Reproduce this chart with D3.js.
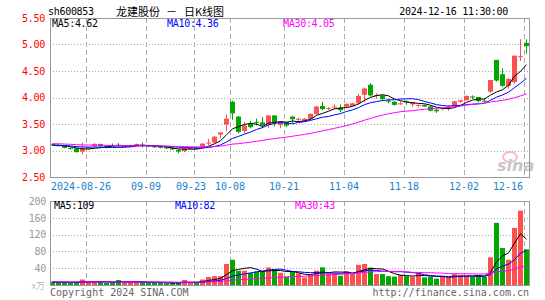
<!DOCTYPE html>
<html lang="zh">
<head>
<meta charset="utf-8">
<style>
  body { margin: 0; background: #fff; }
  svg { display: block; background: #fff; font-family: 'DejaVu Sans Mono', monospace; font-size: 10px; }
  .grid-h { stroke: #aaa; stroke-dasharray: 1,2; }
  .grid-v { stroke: #aaa; stroke-dasharray: 5,3; }
  .frame { fill: none; stroke: #999; }
  .ma5 { stroke: #000; }
  .ma10 { stroke: #00f; }
  .ma30 { stroke: #f0f; }
  path.ma { fill: none; stroke-width: 1; }
</style>
</head>
<body>
<svg width="545" height="300"></svg>
<script src="https://d3js.org/d3.v7.min.js"></script>
<script>
// ---- data ----
const dates = ["2024-08-16","2024-08-19","2024-08-20","2024-08-21","2024-08-22","2024-08-23",
  "2024-08-26","2024-08-27","2024-08-28","2024-08-29","2024-08-30",
  "2024-09-02","2024-09-03","2024-09-04","2024-09-05","2024-09-06",
  "2024-09-09","2024-09-10","2024-09-11","2024-09-12","2024-09-13",
  "2024-09-18","2024-09-19","2024-09-20",
  "2024-09-23","2024-09-24","2024-09-25","2024-09-26","2024-09-27","2024-09-30",
  "2024-10-08","2024-10-09","2024-10-10","2024-10-11",
  "2024-10-14","2024-10-15","2024-10-16","2024-10-17","2024-10-18",
  "2024-10-21","2024-10-22","2024-10-23","2024-10-24","2024-10-25",
  "2024-10-28","2024-10-29","2024-10-30","2024-10-31","2024-11-01",
  "2024-11-04","2024-11-05","2024-11-06","2024-11-07","2024-11-08",
  "2024-11-11","2024-11-12","2024-11-13","2024-11-14","2024-11-15",
  "2024-11-18","2024-11-19","2024-11-20","2024-11-21","2024-11-22",
  "2024-11-25","2024-11-26","2024-11-27","2024-11-28","2024-11-29",
  "2024-12-02","2024-12-03","2024-12-04","2024-12-05","2024-12-06",
  "2024-12-09","2024-12-10","2024-12-11","2024-12-12","2024-12-13",
  "2024-12-16"]

const open = [3.12,3.10,3.09,3.05,3.04,2.98, 3.04,3.08,3.12,3.08,3.10, 3.11,3.08,3.08,3.09,3.11,
  3.09,3.08,3.07,3.06,3.05, 3.01,2.99,3.03, 3.06,3.07,3.13,3.15,3.30,3.49,
  3.92,3.64,3.37,3.50, 3.54,3.53,3.49,3.66,3.48, 3.53,3.64,3.58,3.56,3.60,
  3.69,3.84,3.79,3.82,3.81, 3.83,3.84,3.89,4.05,4.24, 4.04,4.04,3.94,3.92,3.88,
  3.93,3.87,3.85,3.86,3.83, 3.77,3.79,3.82,3.84,3.92, 3.95,4.02,4.01,3.94,4.11,
  4.71,4.44,4.22,4.29,4.76, 5.03]
const high = [3.13,3.12,3.10,3.06,3.05,3.15, 3.07,3.14,3.13,3.10,3.13, 3.14,3.10,3.11,3.13,3.15,
  3.10,3.09,3.08,3.07,3.06, 3.03,3.06,3.06, 3.07,3.14,3.22,3.27,3.35,3.68,
  3.94,3.65,3.54,3.56, 3.60,3.63,3.67,3.67,3.55, 3.54,3.65,3.62,3.61,3.70,
  3.84,3.92,3.82,3.87,3.87, 3.89,3.90,4.07,4.19,4.27, 4.08,4.05,3.98,3.93,3.93,
  3.95,3.91,3.87,3.87,3.85, 3.79,3.82,3.85,3.94,3.96, 4.04,4.04,4.01,3.99,4.33,
  4.71,4.55,4.37,4.79,5.10, 5.10]
const low = [3.09,3.08,3.04,3.02,2.96,2.93, 3.02,3.07,3.07,3.04,3.08, 3.06,3.07,3.07,3.08,3.06,
  3.07,3.05,3.04,3.03,3.01, 2.95,2.97,3.02, 3.03,3.06,3.10,3.14,3.23,3.36,
  3.58,3.32,3.32,3.42, 3.47,3.44,3.43,3.45,3.42, 3.44,3.52,3.55,3.55,3.58,
  3.67,3.76,3.76,3.78,3.72, 3.81,3.83,3.87,3.91,4.02, 3.98,3.94,3.89,3.85,3.86,
  3.86,3.82,3.81,3.82,3.74, 3.71,3.76,3.75,3.83,3.90, 3.94,3.97,3.91,3.91,4.09,
  4.30,4.20,4.17,4.26,4.69, 4.83]
const close = [3.10,3.09,3.05,3.03,2.97,3.03, 3.06,3.12,3.08,3.06,3.09, 3.09,3.09,3.10,3.12,3.09,
  3.08,3.06,3.05,3.04,3.02, 2.98,3.04,3.05, 3.04,3.13,3.15,3.26,3.34,3.60,
  3.70,3.35,3.47,3.44, 3.53,3.48,3.66,3.53,3.53, 3.47,3.59,3.60,3.60,3.69,
  3.83,3.78,3.80,3.83,3.76, 3.88,3.89,4.03,4.17,4.04, 4.05,3.97,3.93,3.86,3.89,
  3.92,3.91,3.86,3.83,3.75, 3.74,3.80,3.83,3.93,3.95, 4.03,4.01,3.93,3.93,4.33,
  4.32,4.22,4.35,4.79,4.78, 4.97]
const volume = [8,6,6,5,7,13, 7,8,7,5,6, 12,6,6,8,7, 5,5,5,4,5, 5,12,6,
  5,13,19,21,21,50, 60,34,34,29, 32,32,42,37,29, 20,33,28,18,24,
  34,42,28,28,22, 33,28,48,50,41, 26,26,21,20,24, 21,20,29,18,20,
  15,20,17,26,24, 21,20,22,20,66, 148,88,60,136,177, 85]

// closes / volumes of the 29 sessions before the window (for the moving averages)
const prevClose = [3.20,3.19,3.17,3.18,3.16,3.15,3.16,3.14,3.13,3.14,3.12,3.13,3.15,3.14,3.13,
  3.12,3.13,3.12,3.11,3.12,3.11,3.10,3.11,3.10,3.09,3.10,3.11,3.10,3.09]
const prevVolume = [9,8,10,7,8,9,7,6,8,9,7,8,10,8,7,6,7,8,9,7,6,7,8,7,6,8,7,6,7]

const priceTicks = [2.5, 3.0, 3.5, 4.0, 4.5, 5.0, 5.5]
const volumeTicks = [40, 80, 120, 160, 200]
const tickDays = ["2024-08-26","2024-09-09","2024-09-23","2024-10-08","2024-10-21",
  "2024-11-04","2024-11-18","2024-12-02","2024-12-16"]
const tickLabels = ["2024-08-26","09-09","09-23","10-08","10-21","11-04","11-18","12-02","12-16"]
const maPeriods = [5, 10, 30]
const maNames = ["ma5", "ma10", "ma30"]
const priceMaLabels = ["MA5:4.62", "MA10:4.36", "MA30:4.05"]
const volumeMaLabels = ["MA5:109", "MA10:82", "MA30:43"]

// ---- layout ----
const left = 50, right = 530
const pTop = 18, pBottom = 177
const vTop = 201, vBottom = 285
const red = "#ff5050", green = "#00a800"

const svg = d3.select("svg")
const n = dates.length

const x = d3.scaleBand().domain(d3.range(n)).range([left, right])
const y = d3.scaleLinear().domain([2.5, 5.5]).range([pBottom, pTop])
const yv = d3.scaleLinear().domain([0, 200]).range([vBottom, vTop])

function movingAvg(values, prev, p) {
  const all = prev.concat(values)
  const off = prev.length
  return values.map((v, i) => {
    const end = i + off + 1
    const start = Math.max(0, end - p)
    return d3.mean(all.slice(start, end))
  })
}

// ---- grid ----
const grid = svg.append("g")
grid.selectAll("line.ph").data(priceTicks.slice(1, -1)).join("line")
  .attr("class", "grid-h")
  .attr("x1", left).attr("x2", right)
  .attr("y1", d => Math.round(y(d)) + 0.5).attr("y2", d => Math.round(y(d)) + 0.5)
grid.selectAll("line.vh").data(volumeTicks.slice(0, -1)).join("line")
  .attr("class", "grid-h")
  .attr("x1", left).attr("x2", right)
  .attr("y1", d => Math.round(yv(d)) + 0.5).attr("y2", d => Math.round(yv(d)) + 0.5)

const tickIdx = tickDays.map(d => dates.indexOf(d))
tickIdx.forEach(i => {
  const gx = x(i) + 0.5
  grid.append("line").attr("class", "grid-v")
    .attr("x1", gx).attr("x2", gx).attr("y1", pTop).attr("y2", pBottom)
  grid.append("line").attr("class", "grid-v")
    .attr("x1", gx).attr("x2", gx).attr("y1", vTop).attr("y2", vBottom)
})

// sina watermark
const wm = svg.append("g").attr("opacity", 0.55)
wm.append("ellipse").attr("cx", 510).attr("cy", 157).attr("rx", 7).attr("ry", 5)
  .attr("fill", "none").attr("stroke", "#e88").attr("stroke-width", 2)
wm.append("text").attr("x", 497).attr("y", 171)
  .attr("font-family", "DejaVu Sans").attr("font-size", 16).attr("font-weight", "bold")
  .attr("font-style", "italic").attr("fill", "#999").text("sina")

// ---- candles ----
const bw = x.bandwidth() - 1
const candles = svg.append("g").selectAll("g").data(d3.range(n)).join("g")
candles.append("rect")
  .attr("x", i => x(i) + Math.floor(bw / 2))
  .attr("width", 1)
  .attr("y", i => y(high[i]))
  .attr("height", i => Math.max(1, y(low[i]) - y(high[i])))
  .attr("fill", i => close[i] >= open[i] ? red : green)
candles.append("rect")
  .attr("x", i => x(i))
  .attr("width", bw)
  .attr("y", i => y(Math.max(open[i], close[i])))
  .attr("height", i => Math.max(1, Math.abs(y(open[i]) - y(close[i]))))
  .attr("fill", i => close[i] >= open[i] ? red : green)

// ---- volume bars ----
svg.append("g").selectAll("rect").data(d3.range(n)).join("rect")
  .attr("x", i => x(i))
  .attr("width", bw)
  .attr("y", i => yv(volume[i]))
  .attr("height", i => vBottom - yv(volume[i]))
  .attr("fill", i => close[i] >= open[i] ? red : green)

// ---- moving averages ----
const cx = i => x(i) + bw / 2
maPeriods.forEach((p, k) => {
  const ma = movingAvg(close, prevClose, p)
  svg.append("path").attr("class", "ma " + maNames[k])
    .attr("d", d3.line().x((d, i) => cx(i)).y(d => y(d))(ma))
  const vma = movingAvg(volume, prevVolume, p)
  svg.append("path").attr("class", "ma " + maNames[k])
    .attr("d", d3.line().x((d, i) => cx(i)).y(d => yv(d))(vma))
})

// ---- frames ----
svg.append("rect").attr("class", "frame")
  .attr("x", left + 0.5).attr("y", pTop + 0.5).attr("width", right - left - 1).attr("height", pBottom - pTop)
svg.append("rect").attr("class", "frame")
  .attr("x", left + 0.5).attr("y", vTop + 0.5).attr("width", right - left - 1).attr("height", vBottom - vTop)

// ---- axes ----
const yAxis = d3.axisLeft(y).tickValues(priceTicks).tickSize(0).tickPadding(5)
  .tickFormat(d3.format(".2f"))
const gy = svg.append("g").attr("transform", "translate(" + left + ",0)").call(yAxis)
gy.select(".domain").remove()
gy.selectAll("text").attr("fill", "#f00").attr("font-family", "DejaVu Sans Mono")
  .attr("font-size", 10).attr("letter-spacing", -0.3)

const vAxis = d3.axisLeft(yv).tickValues(volumeTicks).tickSize(0).tickPadding(4)
const gv = svg.append("g").attr("transform", "translate(" + left + ",0)").call(vAxis)
gv.select(".domain").remove()
gv.selectAll("text").attr("fill", "#999").attr("font-family", "DejaVu Sans Mono")
  .attr("font-size", 10).attr("letter-spacing", -0.3)
svg.append("text").attr("x", 45).attr("y", 289).attr("text-anchor", "end")
  .attr("fill", "#bbb").attr("font-family", "Noto Sans CJK SC").attr("font-size", 9).text("x万")

svg.append("g").selectAll("text").data(tickIdx).join("text")
  .attr("x", (d, k) => x(d) + (k === 0 ? -5 : k === tickIdx.length - 1 ? -16 : k === 2 ? -3 : 0))
  .attr("y", 189.5)
  .attr("text-anchor", "middle")
  .attr("fill", "#1a82cc")
  .text((d, k) => tickLabels[k])

// ---- header ----
svg.append("text").attr("x", 48).attr("y", 15).attr("letter-spacing", -0.3).text("sh600853")
const cjk = svg.append("g").attr("font-family", "Noto Sans CJK SC").attr("font-size", 11)
cjk.append("text").attr("x", 116).attr("y", 15.5).text("龙建股份")
cjk.append("text").attr("x", 166).attr("y", 15.5).text("－")
cjk.append("text").attr("x", 184).attr("y", 15.5).text("日K线图")
svg.append("text").attr("x", 508).attr("y", 15).attr("text-anchor", "end")
  .attr("letter-spacing", -0.3).text("2024-12-16 11:30:00")

const maColors = ["#000", "#00f", "#f0f"]
const priceLabelX = [52, 167, 283]
const volumeLabelX = [54, 175, 295]
priceMaLabels.forEach((t, k) => {
  svg.append("text").attr("x", priceLabelX[k]).attr("y", 27).attr("fill", maColors[k])
    .attr("letter-spacing", -0.3).text(t)
})
volumeMaLabels.forEach((t, k) => {
  svg.append("text").attr("x", volumeLabelX[k]).attr("y", 209).attr("fill", maColors[k])
    .attr("letter-spacing", -0.3).text(t)
})

// ---- footer ----
svg.append("text").attr("x", 50).attr("y", 296).attr("fill", "#666").text("Copyright 2024 SINA.COM")
svg.append("text").attr("x", 529).attr("y", 296).attr("text-anchor", "end").attr("fill", "#666")
  .text("http://finance.sina.com.cn")
</script>
</body>
</html>
